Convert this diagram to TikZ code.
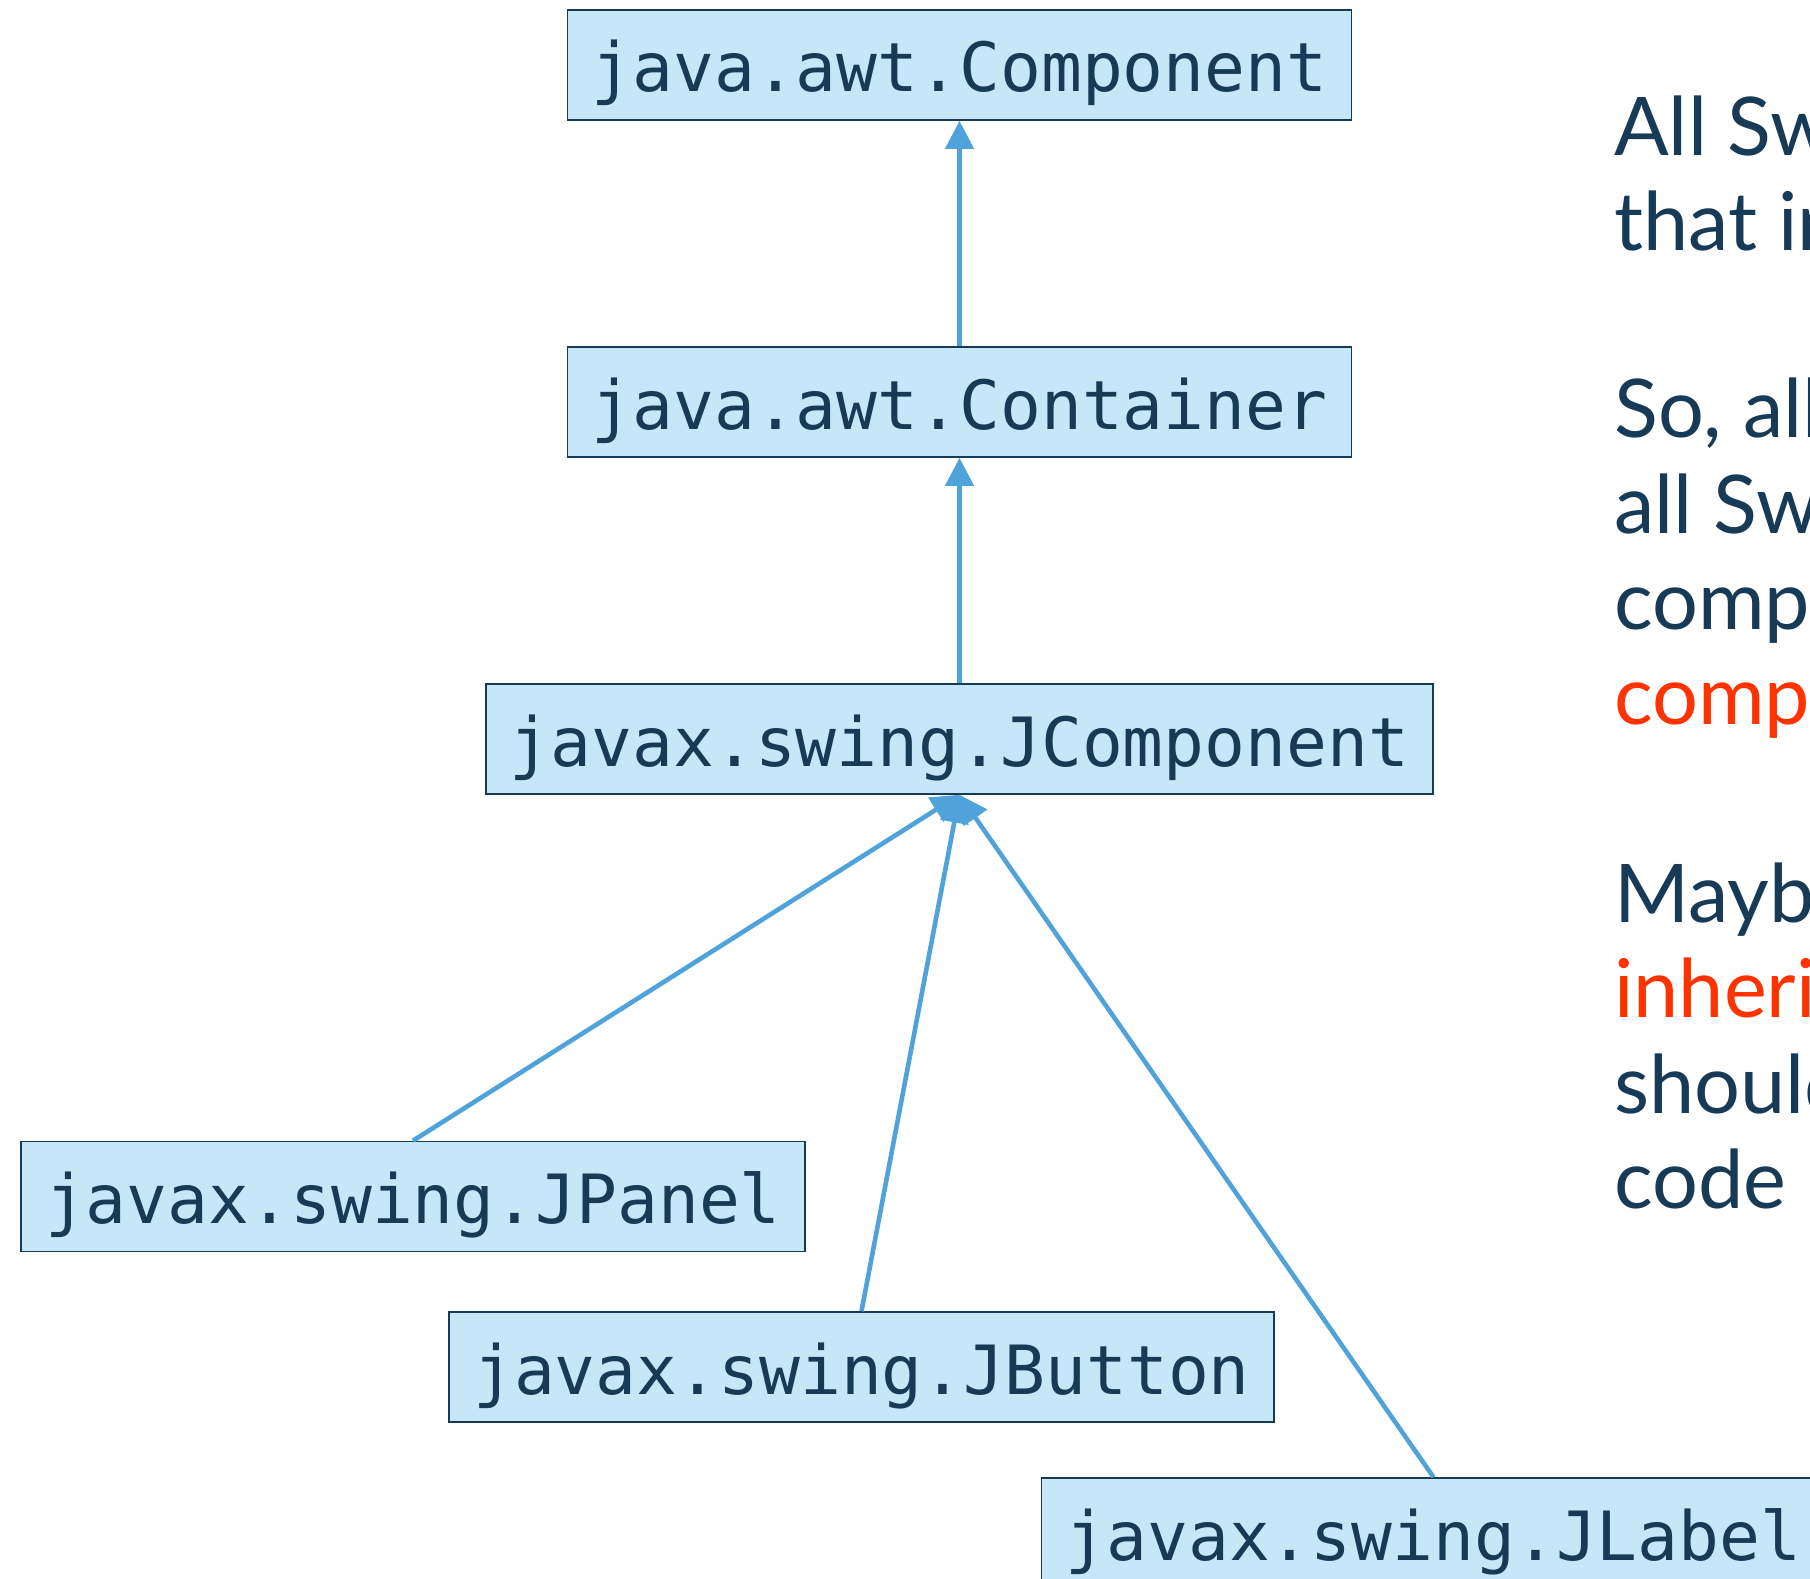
\documentclass[tikz,border=0pt]{standalone}
\usepackage{fontspec}
\setmainfont{Lato}
\newfontfamily\codefont{DejaVu Sans Mono}
\usetikzlibrary{arrows.meta}
\definecolor{ink}{HTML}{173A56}
\definecolor{boxfill}{HTML}{C6E7F7}
\definecolor{edgeblue}{HTML}{4FA3DA}
\definecolor{hot}{HTML}{FF3300}
\begin{document}
\begin{tikzpicture}[x=1pt,y=-1pt,
  cls/.style={draw=ink, line width=1.6pt, fill=boxfill, text=ink,
    inner xsep=24pt, inner ysep=0pt, text height=82pt, text depth=28pt,
    font=\codefont\fontsize{67.9}{80}\selectfont},
  inh/.style={draw=edgeblue, line width=4.6pt, -{Triangle[length=28pt,width=28pt]}},
  note/.style={anchor=base west, text=ink, inner sep=0pt,
    font=\fontsize{81}{96}\selectfont}]
\useasboundingbox (0,0) rectangle (1810,1579);

% class hierarchy
\node[cls] (comp)    at (959.5,65)    {java.awt.Component};
\node[cls] (cont)    at (959.5,402)   {java.awt.Container};
\node[cls] (jcomp)   at (959.5,739)   {javax.swing.JComponent};
\node[cls] (jpanel)  at (413,1196.5)  {javax.swing.JPanel};
\node[cls] (jbutton) at (861.5,1367)  {javax.swing.JButton};
\node[cls] (jlabel)  at (1433.5,1533) {javax.swing.JLabel};

% inheritance arrows
\draw[inh] (cont.north) -- (comp.south);
\draw[inh] (jcomp.north) -- (cont.south);
\draw[inh] (jpanel.north) -- (jcomp.south);
\draw[inh] (jbutton.north) -- (jcomp.south);
\draw[inh] (jlabel.north) -- (jcomp.south);

% side notes
\node[note] (n1)  at (1614,155)  {All Sw};
\node[note] (n2)  at (1614,250)  {that in};
\node[note] (n3)  at (1614,437)  {So, all};
\node[note] (n4)  at (1614,533)  {all Sw};
\node[note] (n5)  at (1614,629)  {comp};
\node[note, text=hot] (n6)  at (1614,724)  {comp};
\node[note] (n7)  at (1614,922)  {Mayb};
\node[note, text=hot] (n8)  at (1614,1017) {inheri};
\node[note] (n9)  at (1614,1113) {should};
\node[note] (n10) at (1614,1208) {code};
\end{tikzpicture}
\end{document}
